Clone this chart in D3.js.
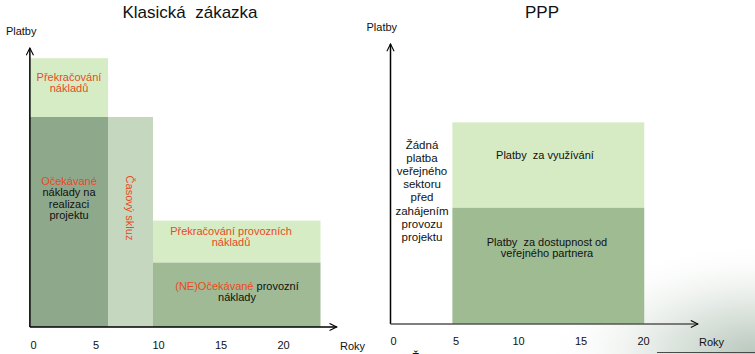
<!DOCTYPE html>
<html>
<head>
<meta charset="utf-8">
<script src="https://cdn.jsdelivr.net/npm/d3@7"></script>
<style>
  body { margin: 0; background: #fff; }
  svg { display: block; font-family: "Liberation Sans", Arial, sans-serif; }
  svg text { white-space: pre; }
</style>
</head>
<body>
<div id="chart"></div>
<script>
// Data
const yearTicks = [0, 5, 10, 15, 20];

// left chart: classic procurement (years from/to, payment bottom/top)
const classicBlocks = [
    { name: 'overrun', x0: -0.25, x1: 6, y0: 75, y1: 96, fill: '#d6ecc5' },
    { name: 'expected', x0: -0.25, x1: 6, y0: 0, y1: 75, fill: '#8ea88c' },
    { name: 'delay', x0: 6, x1: 9.6, y0: 0, y1: 75, fill: '#c6d7c0' },
    { name: 'opOverrun', x0: 9.6, x1: 23, y0: 23, y1: 38, fill: '#d6ecc5' },
    { name: 'opExpected', x0: 9.6, x1: 23, y0: 0, y1: 23, fill: '#9fba95' },
];

// right chart: PPP
const pppBlocks = [
    { name: 'usage', x0: 4.75, x1: 20.1, y0: 41.5, y1: 72, fill: '#d6ebc4' },
    { name: 'availability', x0: 4.75, x1: 20.1, y0: 0, y1: 41.5, fill: '#9ebb92' },
];

const red = '#ea4a22';

// Dimensions
const dimensions = { width: 755, height: 354 };

const svg = d3.select('#chart')
    .append('svg')
    .attr('width', dimensions.width)
    .attr('height', dimensions.height);

const defs = svg.append('defs');
const grad = defs.append('radialGradient')
    .attr('id', 'bgGrad')
    .attr('cx', 1).attr('cy', 1).attr('r', 1);
grad.append('stop').attr('offset', '0%').attr('stop-color', '#b9c8bd');
grad.append('stop').attr('offset', '45%').attr('stop-color', '#e3e9e4');
grad.append('stop').attr('offset', '100%').attr('stop-color', '#ffffff').attr('stop-opacity', 0);

defs.append('marker')
    .attr('id', 'arrow')
    .attr('viewBox', '0 0 10 10')
    .attr('refX', 9).attr('refY', 5)
    .attr('markerWidth', 9).attr('markerHeight', 9)
    .attr('markerUnits', 'userSpaceOnUse')
    .attr('orient', 'auto')
    .append('path')
    .attr('d', 'M1,1 L9,5 L1,9')
    .attr('fill', 'none')
    .attr('stroke', '#000')
    .attr('stroke-width', 1.2);

// slide background corner
svg.append('rect')
    .attr('x', 540).attr('y', 240)
    .attr('width', 215).attr('height', 114)
    .attr('fill', 'url(#bgGrad)');
svg.append('line')
    .attr('x1', 657).attr('x2', 755)
    .attr('y1', 352.5).attr('y2', 352.5)
    .attr('stroke', '#4a4a4a').attr('stroke-width', 1);

function drawPanel(cfg) {
    const xScale = d3.scaleLinear()
        .domain([0, 20])
        .range(cfg.xRange);

    const yScale = d3.scaleLinear()
        .domain([0, 100])
        .range([cfg.baseline, cfg.baseline - 280]);

    const g = svg.append('g');

    g.selectAll('rect.block')
        .data(cfg.blocks)
        .join('rect')
        .attr('class', 'block')
        .attr('x', d => xScale(d.x0))
        .attr('y', d => yScale(d.y1))
        .attr('width', d => xScale(d.x1) - xScale(d.x0))
        .attr('height', d => yScale(d.y0) - yScale(d.y1))
        .attr('fill', d => d.fill);

    const ax = xScale(cfg.axisStart);

    // y axis
    g.append('line')
        .attr('x1', ax).attr('x2', ax)
        .attr('y1', cfg.baseline).attr('y2', cfg.yTop)
        .attr('stroke', '#000')
        .attr('stroke-width', 1.5)
        .attr('marker-end', 'url(#arrow)');

    // x axis
    g.append('line')
        .attr('x1', ax).attr('x2', xScale(cfg.axisEnd))
        .attr('y1', cfg.baseline).attr('y2', cfg.baseline)
        .attr('stroke', cfg.xAxisColor)
        .attr('stroke-width', 1.5)
        .attr('marker-end', 'url(#arrow)');

    const xAxis = d3.axisBottom(xScale)
        .tickValues(yearTicks)
        .tickSize(0)
        .tickPadding(0);

    const xAxisGroup = g.append('g')
        .attr('transform', `translate(0, ${cfg.tickY})`)
        .call(xAxis);
    xAxisGroup.select('.domain').remove();
    xAxisGroup.selectAll('text')
        .attr('font-size', 11)
        .attr('font-family', '"Liberation Sans", Arial, sans-serif')
        .attr('fill', '#111');

    g.append('text')
        .attr('x', cfg.rokyX).attr('y', cfg.tickY + 9)
        .attr('font-size', 11)
        .attr('fill', '#111')
        .text('Roky');

    g.append('text')
        .attr('x', ax - 24).attr('y', cfg.yTop - 13)
        .attr('font-size', 11)
        .attr('fill', '#111')
        .text('Platby');

    g.append('text')
        .attr('x', cfg.titleX).attr('y', 18)
        .attr('text-anchor', 'middle')
        .attr('font-size', 17)
        .attr('fill', '#111')
        .text(cfg.title);

    return { g, xScale, yScale };
}

function label(g, x, y, lines, opts = {}) {
    const t = g.append('text')
        .attr('x', x).attr('y', y)
        .attr('text-anchor', 'middle')
        .attr('font-size', opts.size || 11)
        .attr('fill', '#111');
    if (opts.rotate) t.attr('transform', `rotate(90, ${x}, ${y})`);
    lines.forEach((parts, i) => {
        const ts = t.append('tspan')
            .attr('x', x)
            .attr('dy', i === 0 ? '0.35em' : (opts.lh || 11.5));
        parts.forEach(p => {
            ts.append('tspan')
                .attr('fill', p.red ? red : '#111')
                .text(p.t);
        });
    });
    return t;
}

// Left panel
const left = drawPanel({
    blocks: classicBlocks,
    xRange: [33, 283],
    baseline: 327,
    yTop: 48,
    axisStart: -0.25,
    axisEnd: 24.3,
    xAxisColor: '#000',
    tickY: 341,
    rokyX: 340,
    title: 'Klasická  zákazka',
    titleX: 190,
});

label(left.g, 69, 77, [[{ t: 'Překračování', red: true }], [{ t: 'nákladů', red: true }]]);
label(left.g, 69, 181, [
    [{ t: 'Očekávané', red: true }],
    [{ t: 'náklady na' }],
    [{ t: 'realizaci' }],
    [{ t: 'projektu' }],
]);
label(left.g, 130, 208, [[{ t: 'Časový skluz', red: true }]], { rotate: true });
label(left.g, 231, 231, [[{ t: 'Překračování provozních', red: true }], [{ t: 'nákladů', red: true }]]);
label(left.g, 237, 286, [
    [{ t: '(NE)Očekávané', red: true }, { t: ' provozní' }],
    [{ t: 'náklady' }],
]);

// Right panel
const right = drawPanel({
    blocks: pppBlocks,
    xRange: [393, 643],
    baseline: 324,
    yTop: 44,
    axisStart: -0.2,
    axisEnd: 24.4,
    xAxisColor: '#555',
    tickY: 337,
    rokyX: 699,
    title: 'PPP',
    titleX: 542,
});

label(right.g, 422, 145, [
    [{ t: 'Žádná' }],
    [{ t: 'platba' }],
    [{ t: 'veřejného' }],
    [{ t: 'sektoru' }],
    [{ t: 'před' }],
    [{ t: 'zahájením' }],
    [{ t: 'provozu' }],
    [{ t: 'projektu' }],
], { size: 11.5, lh: 13.1 });
label(right.g, 545, 155, [[{ t: 'Platby  za využívání' }]]);
label(right.g, 547, 242, [[{ t: 'Platby  za dostupnost od' }], [{ t: 'veřejného partnera' }]]);

// cut-off text at the bottom edge
svg.append('text')
    .attr('x', 412).attr('y', 362)
    .attr('font-size', 12)
    .attr('fill', '#111')
    .text('Ž');
</script>
</body>
</html>
